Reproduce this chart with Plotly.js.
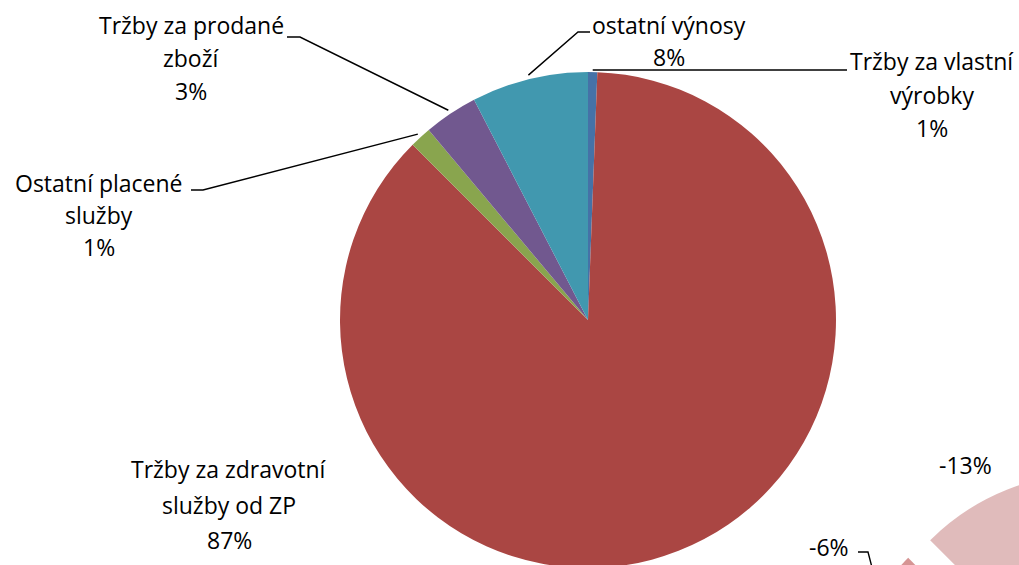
<!DOCTYPE html>
<html><head><meta charset="utf-8">
<script src="https://cdn.plot.ly/plotly-3.0.1.min.js"></script>
<style>
html,body{margin:0;padding:0;width:1019px;height:565px;overflow:hidden;background:#ffffff}
#chart{width:1400px;height:1030px}
</style>
</head><body><div id="chart"></div>
<script>
// ---- data ----
const categories = ["Tržby za vlastní výrobky", "Tržby za zdravotní služby od ZP", "Ostatní placené služby", "Tržby za prodané zboží", "ostatní výnosy"];
const labelLines = ["Tržby za vlastní<br>výrobky", "Tržby za zdravotní<br>služby od ZP", "Ostatní placené<br>služby", "Tržby za prodané<br>zboží", "ostatní výnosy"];
const shares = [0.6, 86.9, 1.4, 3.5, 7.6];
const shareLabels = ["1%", "87%", "1%", "3%", "8%"];
const sliceColors = ["#4572A7", "#AA4643", "#89A54E", "#71588F", "#4198AF"];

const changeCategories = ["pokles A", "pokles B", "ostatní"];
const changes = [-6, -13, -81];
const changeLabels = ["-6%", "-13%", ""];
const changeColors = ["#D69594", "#E0BBBB", "#E6C6C6"];

// ---- geometry (layout) ----
const W = 1400, H = 1030;
const main = {cx: 588, cy: 320, r: 248};
const sec = {cx: 1109, cy: 746, r: 228, pull: 0.21, rot: -66.6};
const px = x => x / W, py = y => 1 - y / H;

function domainFor(c, outerR) {
  return {x: [px(c.cx - outerR), px(c.cx + outerR)], y: [py(c.cy + outerR), py(c.cy - outerR)]};
}

const traces = [
  {type: 'pie', labels: categories, values: shares, sort: false, direction: 'clockwise', rotation: 0,
   marker: {colors: sliceColors, line: {width: 0}}, textinfo: 'none', hoverinfo: 'label+percent',
   domain: domainFor(main, main.r), showlegend: false},
  {type: 'pie', labels: changeCategories, values: changes.map(Math.abs), sort: false, direction: 'clockwise',
   rotation: sec.rot, pull: changes.map(() => sec.pull),
   marker: {colors: changeColors, line: {width: 0}}, textinfo: 'none', hoverinfo: 'label',
   domain: domainFor(sec, sec.r * (1 + sec.pull)), showlegend: false}
];

// point on the main pie at a slice's middle angle
function mainPoint(i, rr) {
  const tot = shares.reduce((a, b) => a + b, 0);
  let before = 0; for (let k = 0; k < i; k++) before += shares[k];
  const a = 2 * Math.PI * (before + shares[i] / 2) / tot;
  return [main.cx + rr * Math.sin(a), main.cy - rr * Math.cos(a)];
}
function secPoint(i, rr) {
  const vals = changes.map(Math.abs);
  const tot = vals.reduce((a, b) => a + b, 0);
  let before = 0; for (let k = 0; k < i; k++) before += vals[k];
  const a = sec.rot * Math.PI / 180 + 2 * Math.PI * (before + vals[i] / 2) / tot;
  const p = sec.pull * sec.r;
  const cx = sec.cx + p * Math.sin(a), cy = sec.cy - p * Math.cos(a);
  return [cx + rr * Math.sin(a), cy - rr * Math.cos(a)];
}

// label placement (layout)
const mainLabelPos = [
  {x: 932, ys: [61, 95, 128], elbow: [[847, 70]]},
  {x: 229, ys: [469, 505, 540], elbow: null},
  {x: 99, ys: [183, 215, 247], elbow: [[203, 190], [191, 190]]},
  {x: 191, ys: [25, 58, 91], elbow: [[300, 37], [287, 37]]},
  {x: 669, ys: [25, 57], elbow: [[578, 32], [590, 32]]}
];
const secLabelPos = [
  {x: 829, ys: [547], elbow: [[868, 552], [858, 552]]},
  {x: 965, ys: [465], elbow: null}
];

const font = {family: "'Open Sans', sans-serif", size: 23, color: '#000000'};
const annotations = [], shapes = [];

function addLabel(lines, pos, anchorPt) {
  lines.forEach((t, j) => {
    annotations.push({x: px(pos.x), y: py(pos.ys[j]), xref: 'paper', yref: 'paper', text: t,
      showarrow: false, xanchor: 'center', yanchor: 'middle', font: font});
  });
  if (pos.elbow && anchorPt) {
    let d = 'M ' + px(anchorPt[0]) + ' ' + py(anchorPt[1]);
    pos.elbow.forEach(p => { d += ' L ' + px(p[0]) + ' ' + py(p[1]); });
    shapes.push({type: 'path', xref: 'paper', yref: 'paper', path: d, line: {color: '#000000', width: 1.4}});
  }
}

categories.forEach((c, i) => {
  const lines = labelLines[i].split('<br>').concat([shareLabels[i]]);
  const pt = mainPoint(i, i === 0 ? main.r + 2 : main.r + 4);
  addLabel(lines, mainLabelPos[i], pt);
});
[0, 1].forEach(i => {
  addLabel([changeLabels[i]], secLabelPos[i], secPoint(i, sec.r + 4));
});

const layout = {
  width: W, height: H, margin: {l: 0, r: 0, t: 0, b: 0},
  paper_bgcolor: '#ffffff', plot_bgcolor: '#ffffff', showlegend: false,
  annotations: annotations, shapes: shapes
};
Plotly.newPlot('chart', traces, layout, {displayModeBar: false, staticPlot: true});
</script>
</body></html>
